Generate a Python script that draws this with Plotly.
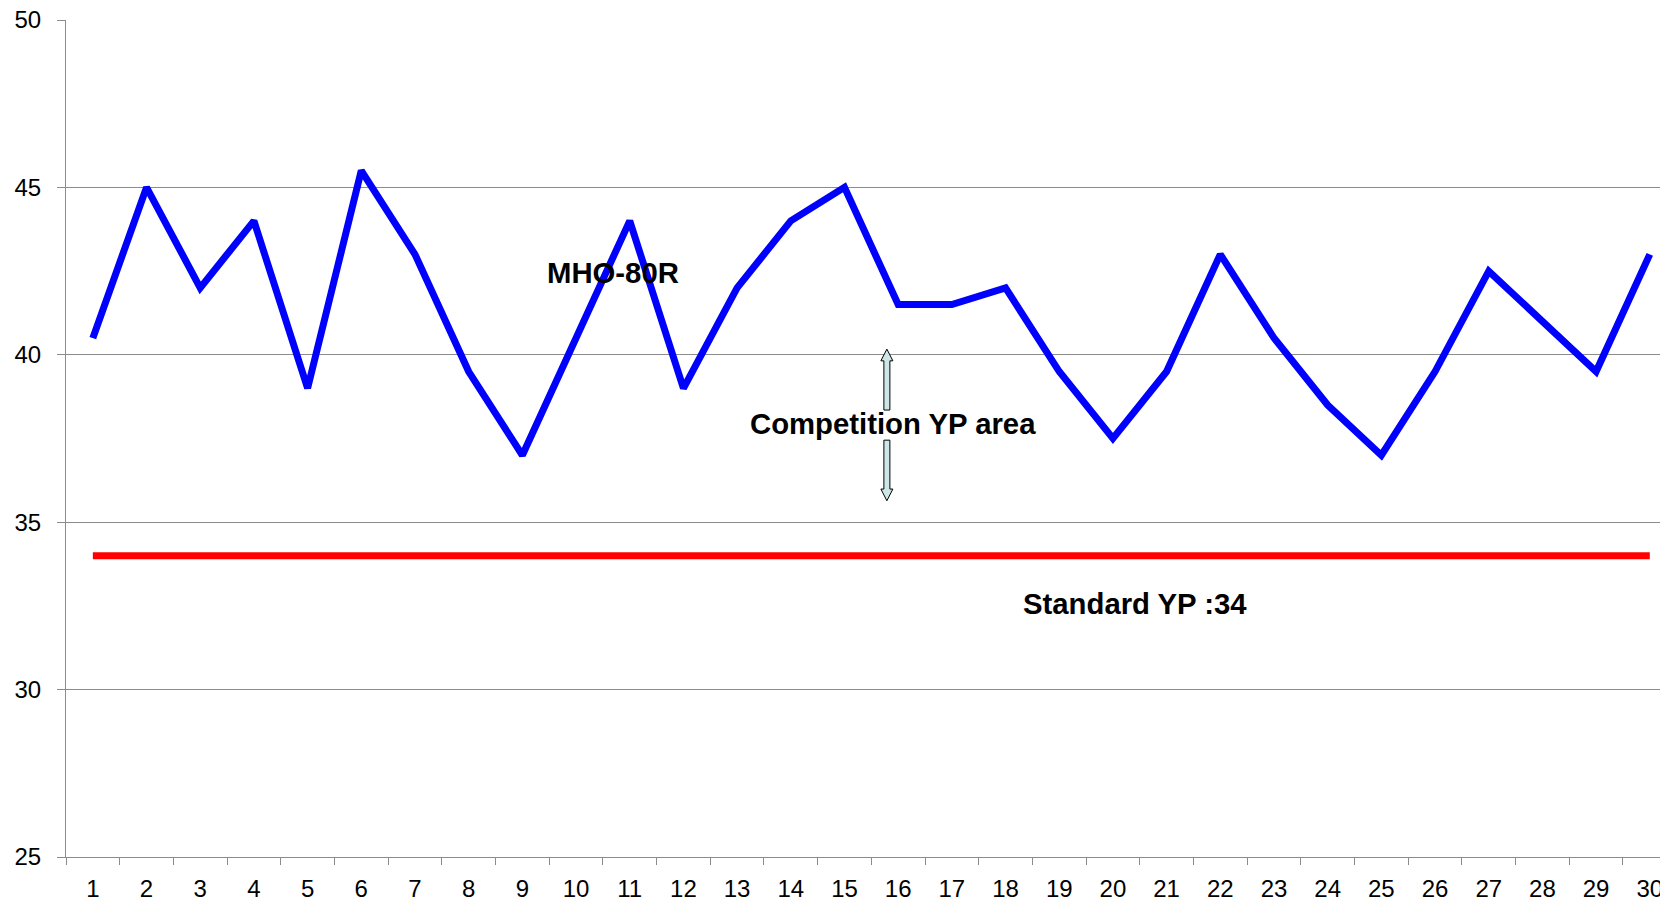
import plotly.graph_objects as go

categories = [str(i) for i in range(1, 31)]
mho_values = [40.5, 45, 42, 44, 39, 45.5, 43, 39.5, 37, 40.5,
              44, 39, 42, 44, 45, 41.5, 41.5, 42, 39.5, 37.5,
              39.5, 43, 40.5, 38.5, 37, 39.5, 42.5, 41, 39.5, 43]
standard_yp = 34
standard_values = [standard_yp] * len(categories)

y_ticks = [25, 30, 35, 40, 45, 50]

FONT = "Liberation Sans, Arial, sans-serif"
GRID = "#8c8c8c"

fig = go.Figure()
fig.add_trace(go.Scatter(x=categories, y=standard_values, mode="lines",
                         line=dict(color="#ff0000", width=7), showlegend=False,
                         hoverinfo="skip"))
fig.add_trace(go.Scatter(x=categories, y=mho_values, mode="lines",
                         line=dict(color="#0000ff", width=7), showlegend=False))

# annotations
ann_font = dict(family=FONT, size=29.3, color="#000000")
fig.add_annotation(x=9.69, y=42.45, text="<b>MHO-80R</b>", showarrow=False,
                   font=ann_font, xanchor="center", yanchor="middle")
fig.add_annotation(x=14.9, y=37.95, text="<b>Competition YP area</b>", showarrow=False,
                   font=ann_font, xanchor="center", yanchor="middle")
fig.add_annotation(x=19.42, y=32.58, text="<b>Standard YP :34</b>", showarrow=False,
                   font=ann_font, xanchor="center", yanchor="middle")

# block double arrow (two halves)
arrow_x = 14.79
up_tip, up_base, up_shaft_end = 40.17, 39.82, 38.35
dn_shaft_end, dn_base, dn_tip = 37.45, 35.99, 35.64
up_path = (f"M-3,{up_shaft_end} L-3,{up_base} L-6,{up_base} L0,{up_tip} "
           f"L6,{up_base} L3,{up_base} L3,{up_shaft_end} Z")
dn_path = (f"M-3,{dn_shaft_end} L-3,{dn_base} L-6,{dn_base} L0,{dn_tip} "
           f"L6,{dn_base} L3,{dn_base} L3,{dn_shaft_end} Z")
for p in (up_path, dn_path):
    fig.add_shape(type="path", path=p, xref="x", yref="y", xsizemode="pixel",
                  xanchor=arrow_x, fillcolor="#cde6e6",
                  line=dict(color="#000000", width=1))

fig.update_xaxes(type="category", tickson="boundaries", range=[-0.5, 29.19],
                 automargin=False,
                 showgrid=False, showline=True, linecolor=GRID, linewidth=1,
                 ticks="outside", ticklen=7, tickcolor=GRID, tickwidth=1,
                 tickfont=dict(family=FONT, size=24, color="#000000"),
                 ticklabelstandoff=10, zeroline=False)
fig.update_yaxes(range=[25, 50], tickvals=y_ticks, automargin=False,
                 showgrid=True, gridcolor=GRID,
                 gridwidth=1, showline=True, linecolor=GRID, linewidth=1,
                 ticks="outside", ticklen=8, tickcolor=GRID, tickwidth=1,
                 tickfont=dict(family=FONT, size=24, color="#000000"),
                 ticklabelstandoff=11, zeroline=False)

fig.update_layout(width=1660, height=903, autosize=False,
                  margin=dict(l=66, r=0, t=20, b=46),
                  plot_bgcolor="#ffffff", paper_bgcolor="#ffffff",
                  showlegend=False)

fig.write_html("out.html", config={"displayModeBar": False},
               post_script="document.body.style.margin='0';document.body.style.overflow='hidden';")
